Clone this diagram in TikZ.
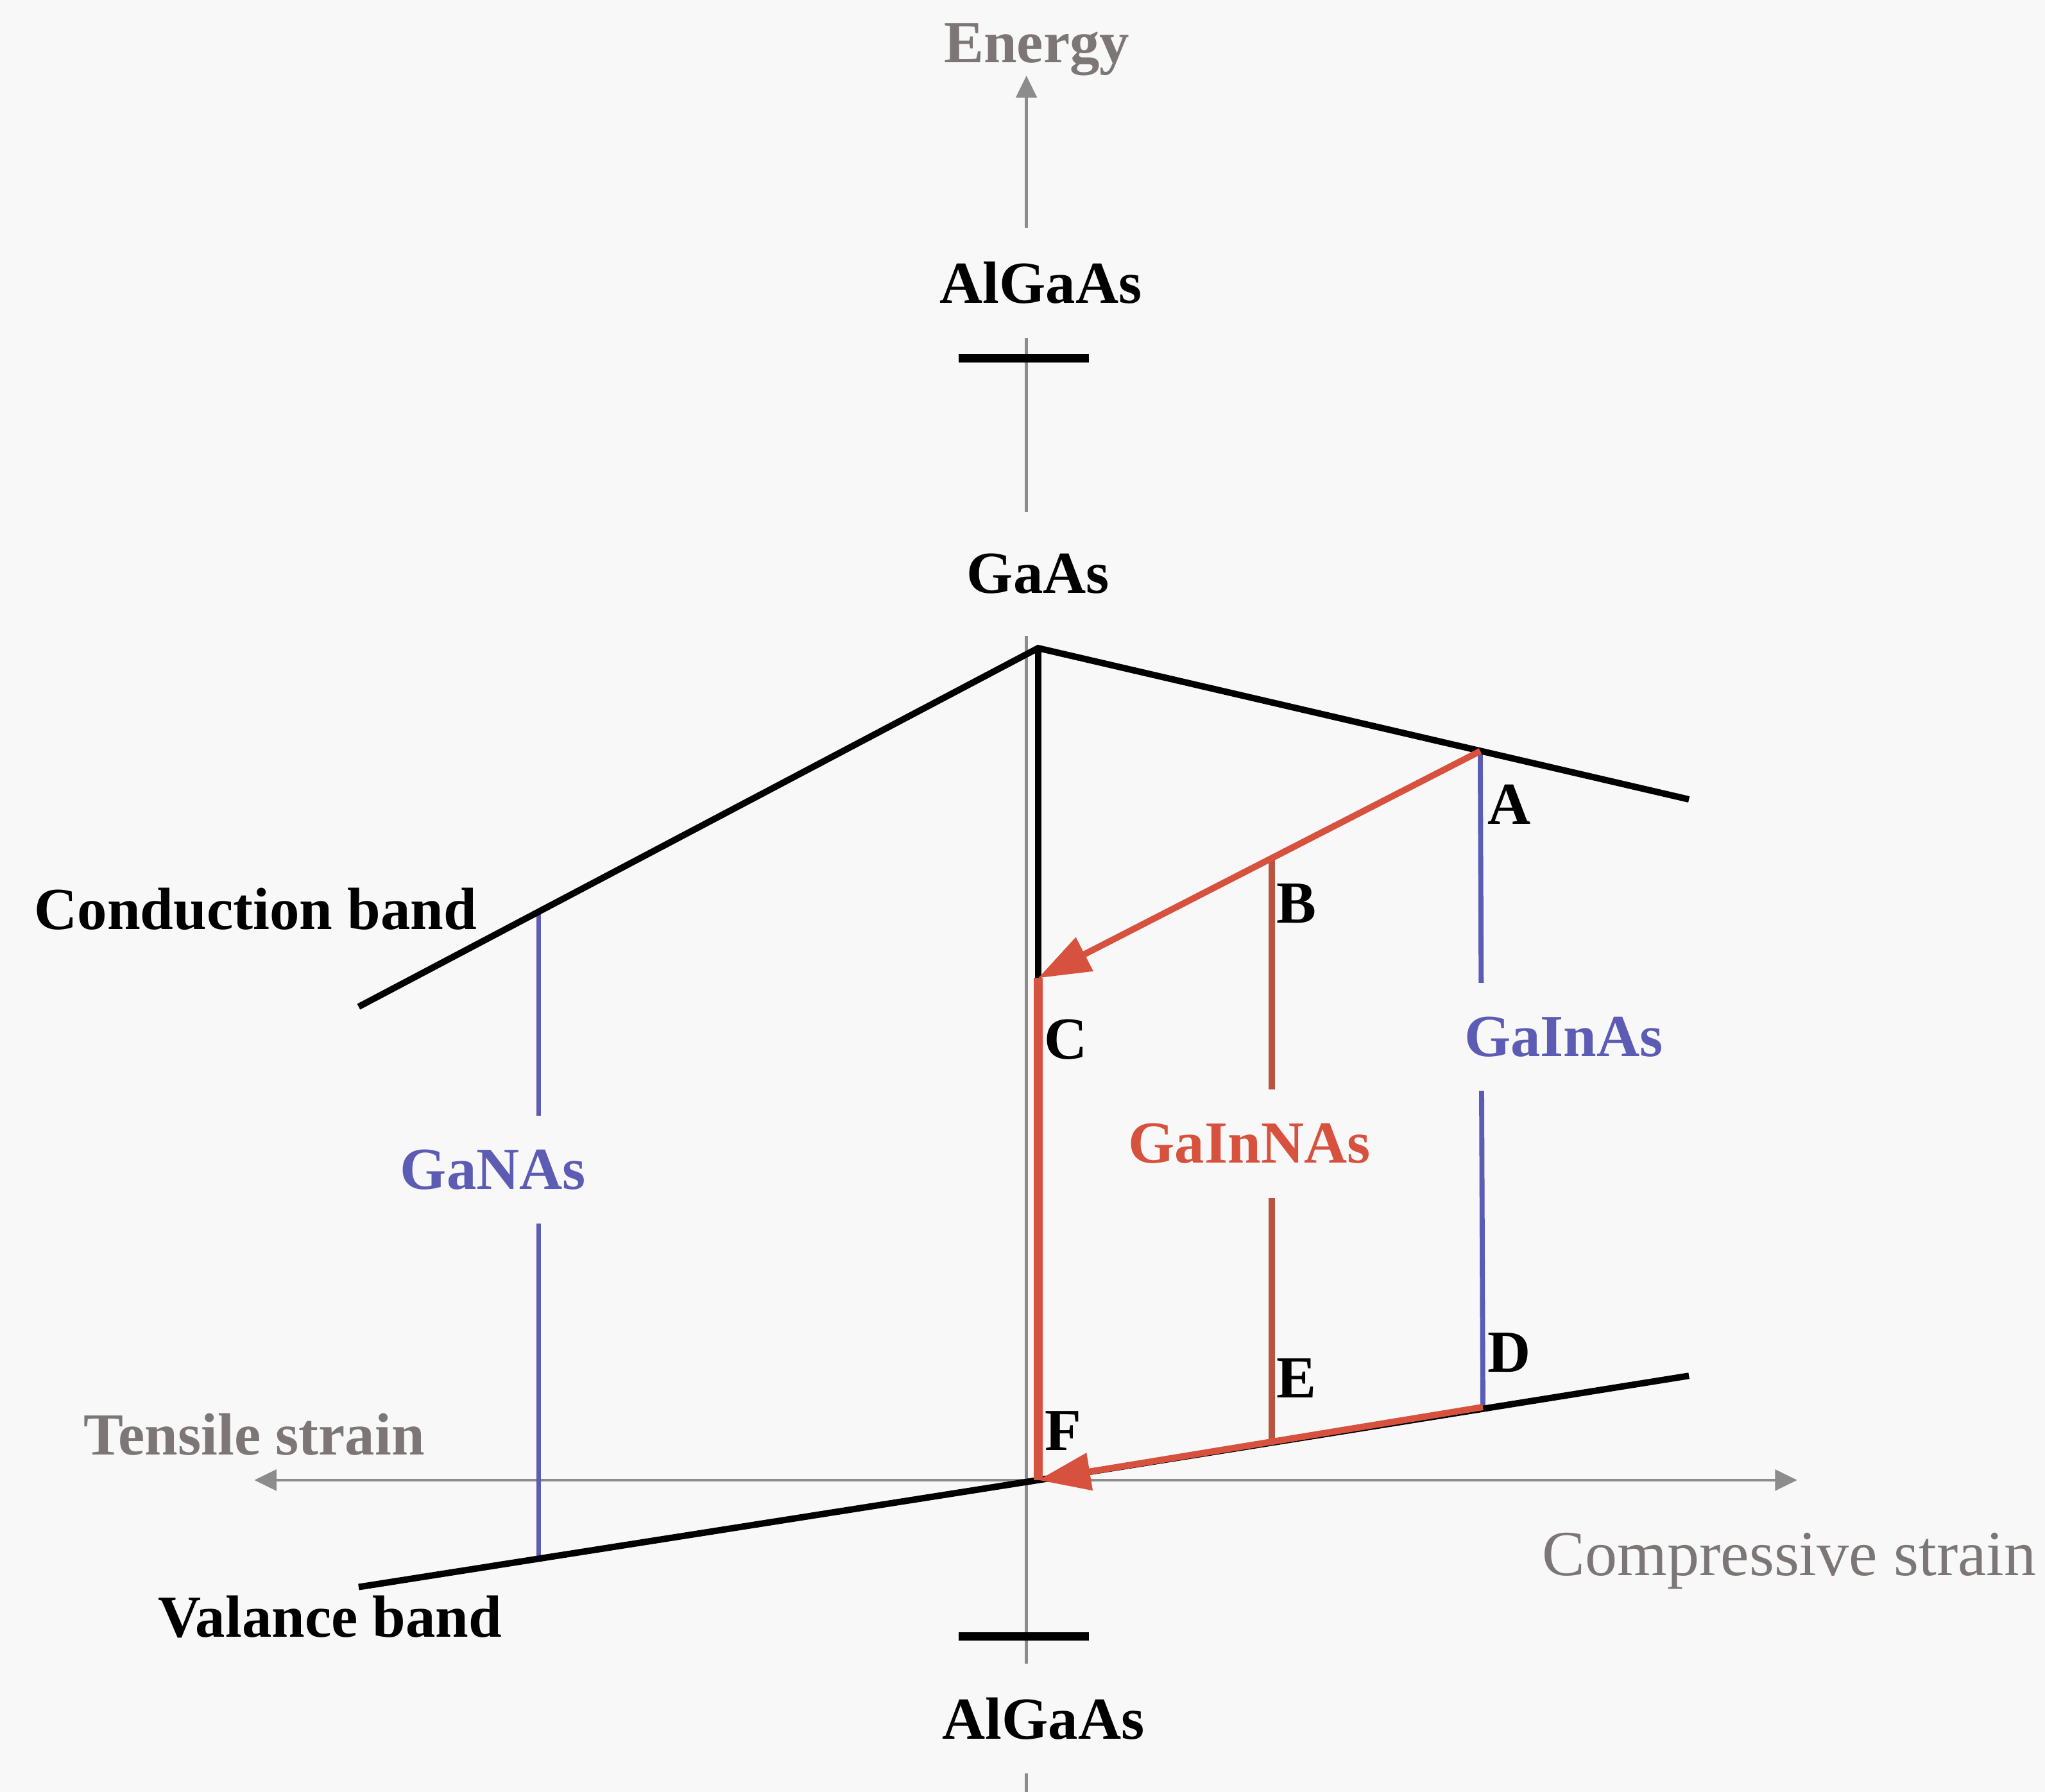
\documentclass[tikz,border=0pt]{standalone}
\usepackage{fontspec}
\setmainfont{Liberation Serif}
\usepackage{tikz}
\usetikzlibrary{arrows.meta, positioning}
\definecolor{bgcol}{RGB}{248, 248, 248}
\definecolor{axisgray}{RGB}{140, 140, 140}
\definecolor{textgray}{RGB}{125, 118, 118}
\definecolor{bandred}{RGB}{215, 82, 62}
\definecolor{bandbrown}{RGB}{185, 84, 64}
\definecolor{bandblue}{RGB}{92, 92, 180}

\begin{document}
\begin{tikzpicture}[
  x=0.01cm, y=-0.01cm,
  every node/.style={font=\fontsize{13}{15}\selectfont\bfseries},
  axis/.style={draw=axisgray, line width=0.6pt},
  axtip/.style={-{Triangle[length=0.17cm, width=0.16cm]}},
  band/.style={line width=1.4pt, black},
  bar/.style={line width=1.8pt, black},
  arr/.style={-{Triangle[length=0.4cm, width=0.28cm]}, line width=1.4pt, color=bandred},
  mat/.style={fill=bgcol, inner xsep=2pt, inner ysep=0.26cm},
  pt/.style={inner sep=0pt, text=black}
]

\useasboundingbox (0,0) rectangle (1568,1374);
\fill[bgcol] (0,0) rectangle (1568,1374);

% axes
\coordinate (ytop) at (787,58);
\coordinate (ybot) at (787,1374);
\coordinate (xL)   at (195,1135);
\coordinate (xR)   at (1378,1135);
\draw[axis, axtip] (ybot) -- (ytop);
\draw[axis, {Triangle[length=0.17cm, width=0.16cm]}-{Triangle[length=0.17cm, width=0.16cm]}] (xL) -- (xR);

% band edges
\coordinate (cbL)  at (275,772);
\coordinate (peak) at (796,497);
\coordinate (cbR)  at (1295,613);
\coordinate (vbL)  at (275,1217);
\coordinate (vbM)  at (796,1135);
\coordinate (vbR)  at (1295,1055);
\coordinate (ptA)  at (1135,576);
\coordinate (ptB)  at (975,658);
\coordinate (ptC)  at (796,750);
\coordinate (ptD)  at (1137,1079);
\coordinate (ptE)  at (975,1107);
\coordinate (nasT) at (413,699);
\coordinate (nasB) at (413,1195);

\draw[line width=1.1pt, bandblue]  (nasT) -- (nasB);
\draw[line width=1.1pt, bandblue]  (ptA) -- (ptD);
\draw[line width=1.4pt, bandbrown] (ptB) -- (ptE);
\draw[band] (cbL) -- (peak) -- (cbR);
\draw[band] (vbL) -- (vbM) -- (vbR);
\draw[band] (peak) -- (ptC);
\draw[line width=2pt, bandred] (ptC) -- (vbM);
\draw[arr] (ptA) -- (ptC);
\draw[arr] (ptD) -- (vbM);

% barrier levels
\draw[bar] (735,275) -- (835,275);
\draw[bar] (735,1255) -- (835,1255);

% labels
\node[text=textgray] (energy) at (795,38) {Energy};
\node[mat] (algaasT) at (798,217) {AlGaAs};
\node[mat, inner ysep=0.32cm] (gaas) at (796,440) {GaAs};
\node[mat] (algaasB) at (800,1318) {AlGaAs};
\node (cband) at (196,697) {Conduction band};
\node (vband) at (253,1240) {Valance band};
\node[text=textgray] (tensile) at (195,1100) {Tensile strain};
\node[text=textgray, font=\fontsize{14}{16}\selectfont] (compr) at (1372,1197) {Compressive strain};

\node[mat, text=bandblue] (ganas)   at (378,897)  {GaNAs};
\node[mat, text=bandred]  (gainnas) at (958,877)  {GaInNAs};
\node[mat, text=bandblue] (gainas)  at (1199,795) {GaInAs};

\node[pt] (lblA) at (1157,617)  {A};
\node[pt] (lblB) at (994,693)   {B};
\node[pt] (lblC) at (817,797)   {C};
\node[pt] (lblD) at (1157,1037) {D};
\node[pt] (lblE) at (994,1057)  {E};
\node[pt] (lblF) at (815,1097)  {F};

\end{tikzpicture}
\end{document}
